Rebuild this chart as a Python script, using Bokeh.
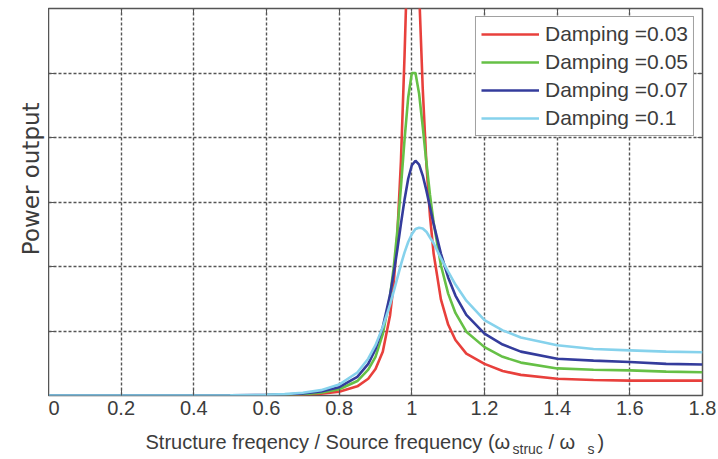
from math import pi
from bokeh.plotting import figure
from bokeh.layouts import row, column
from bokeh.models import (FixedTicker, NumeralTickFormatter, LinearAxis, Label, Legend)
from bokeh.embed import file_html
from bokeh.resources import INLINE

# ---- data ----
freq_ratio = [0, 0.1, 0.2, 0.3, 0.4, 0.5, 0.6, 0.65, 0.7, 0.75, 0.8, 0.85, 0.88, 0.9,
              0.92, 0.94, 0.95, 0.96, 0.97, 0.98, 0.99, 1.0, 1.01, 1.02, 1.03, 1.04,
              1.05, 1.06, 1.08, 1.1, 1.12, 1.15, 1.2, 1.25, 1.3, 1.4, 1.5, 1.6, 1.7, 1.8]

power_d003 = [0, 0, 0, 0, 0, 0.001, 0.003, 0.007, 0.013, 0.028, 0.06, 0.142, 0.26, 0.41,
              0.68, 1.24, 1.73, 2.48, 3.63, 5.28, 7.19, 8.33, 7.81, 6.28, 4.76, 3.60,
              2.78, 2.20, 1.49, 1.10, 0.86, 0.65, 0.49, 0.38, 0.32, 0.26, 0.24, 0.23, 0.23, 0.23]

power_d005 = [0, 0, 0, 0, 0, 0.001, 0.006, 0.011, 0.022, 0.045, 0.096, 0.224, 0.40, 0.60,
              0.95, 1.54, 1.98, 2.55, 3.23, 3.97, 4.62, 5.0, 5.0, 4.68, 4.17, 3.62,
              3.11, 2.68, 2.02, 1.58, 1.28, 0.99, 0.75, 0.60, 0.51, 0.42, 0.40, 0.39, 0.37, 0.36]

power_d007 = [0, 0, 0, 0, 0.001, 0.002, 0.008, 0.016, 0.031, 0.062, 0.129, 0.289, 0.49, 0.72,
              1.06, 1.56, 1.89, 2.26, 2.66, 3.04, 3.36, 3.57, 3.64, 3.58, 3.41, 3.18,
              2.92, 2.66, 2.20, 1.83, 1.55, 1.25, 0.96, 0.79, 0.68, 0.57, 0.54, 0.52, 0.49, 0.48]

power_d010 = [0, 0, 0, 0, 0.001, 0.003, 0.011, 0.022, 0.042, 0.083, 0.169, 0.356, 0.57, 0.78,
              1.06, 1.41, 1.61, 1.82, 2.03, 2.22, 2.38, 2.50, 2.58, 2.60, 2.59, 2.54,
              2.45, 2.36, 2.13, 1.92, 1.72, 1.47, 1.17, 1.01, 0.90, 0.78, 0.72, 0.70, 0.68, 0.67]

series_labels = ["Damping =0.03", "Damping =0.05", "Damping =0.07", "Damping =0.1"]
series_colors = ["#e8403c", "#66c046", "#343c9c", "#86d2ec"]

x_ticks = [0, 0.2, 0.4, 0.6, 0.8, 1.0, 1.2, 1.4, 1.6, 1.8]
y_ticks = [1, 2, 3, 4, 5]

x_title = "Structure freqency / Source frequency (\u03c9"
x_title_sub1 = "struc"
x_title_mid = "/ \u03c9"
x_title_sub2 = "s"
x_title_end = ")"
y_title = "Power output"

FONT = "Liberation Sans"
TXT = "#3c3c3c"
FRAME = "#555555"

# ---------------- main plot ----------------
p = figure(width=668, height=425, x_range=(0, 1.8), y_range=(0, 6),
           output_backend="svg", toolbar_location=None,
           min_border_left=0, min_border_right=14, min_border_top=8,
           min_border_bottom=30, background_fill_color="white",
           border_fill_color="white")

p.outline_line_color = FRAME
p.outline_line_width = 1.5

p.xaxis.ticker = FixedTicker(ticks=x_ticks)
p.xaxis.formatter = NumeralTickFormatter(format="0.[0]")
p.xaxis.major_label_text_font = FONT
p.xaxis.major_label_text_font_size = "20px"
p.xaxis.major_label_text_color = TXT
p.xaxis.major_label_standoff = 5
p.xaxis.major_tick_in = 6
p.xaxis.major_tick_out = 0
p.xaxis.minor_tick_line_color = None
p.xaxis.axis_line_color = None
p.xaxis.major_tick_line_color = FRAME

p.yaxis.ticker = FixedTicker(ticks=y_ticks)
p.yaxis.major_label_text_font_size = "0px"
p.yaxis.major_label_text_color = None
p.yaxis.major_label_standoff = 0
p.yaxis.major_tick_in = 6
p.yaxis.major_tick_out = 0
p.yaxis.minor_tick_line_color = None
p.yaxis.axis_line_color = None
p.yaxis.major_tick_line_color = FRAME

def tick_only_axis(ticks):
    return LinearAxis(ticker=FixedTicker(ticks=ticks), major_label_text_font_size="0px",
                      major_label_text_color=None, major_label_standoff=0,
                      major_tick_in=5, major_tick_out=0, minor_tick_line_color=None,
                      axis_line_color=None, major_tick_line_color=FRAME)

p.add_layout(tick_only_axis(x_ticks), "above")
p.add_layout(tick_only_axis(y_ticks), "right")

for g in (p.xgrid, p.ygrid):
    g.grid_line_color = "#555555"
    g.grid_line_dash = "3 2"
    g.grid_line_width = 1.4
p.xgrid.ticker = FixedTicker(ticks=x_ticks)
p.ygrid.ticker = FixedTicker(ticks=y_ticks)

all_series = [power_d003, power_d005, power_d007, power_d010]
items = []
for ys, col, lab in zip(all_series, series_colors, series_labels):
    r = p.line(freq_ratio, ys, line_color=col, line_width=2.6)
    items.append((lab, [r]))

legend = Legend(items=items, location="top_right")
legend.margin = 8
legend.padding = 5
legend.spacing = 4
legend.glyph_width = 58
legend.glyph_height = 24
legend.label_height = 24
legend.label_standoff = 6
legend.label_text_font = FONT
legend.label_text_font_size = "21px"
legend.label_text_color = TXT
legend.border_line_color = "#444444"
legend.border_line_width = 1.5
legend.background_fill_alpha = 1.0
p.add_layout(legend, "center")

# ---------------- y title strip (left) ----------------
yfig = figure(width=48, height=425, x_range=(0, 48), y_range=(0, 425),
              x_axis_type=None, y_axis_type=None, min_border=0,
              output_backend="svg", toolbar_location=None)
yfig.outline_line_color = None
yfig.grid.visible = False
yfig.add_layout(Label(x=30, y=238, text=y_title, angle=pi / 2, text_font="DejaVu Sans",
                      text_font_size="23px", text_color=TXT, text_baseline="alphabetic",
                      text_align="center"))

# ---------------- x title strip (bottom) ----------------
xfig = figure(width=716, height=33, x_range=(0, 716), y_range=(0, 33),
              x_axis_type=None, y_axis_type=None, min_border=0,
              output_backend="svg", toolbar_location=None)
xfig.outline_line_color = None
xfig.grid.visible = False

def lab(x, y, text, size):
    xfig.add_layout(Label(x=x, y=y, text=text, text_font=FONT, text_font_size=size,
                          text_color=TXT, text_baseline="alphabetic", text_align="left"))

lab(145, 17, x_title, "20px")
lab(512, 10, x_title_sub1, "14px")
lab(548, 17, x_title_mid, "20px")
lab(587, 10, x_title_sub2, "14px")
lab(597, 17, x_title_end, "20px")

layout = column(row(yfig, p, spacing=0), xfig, spacing=0)

open("out.html", "w").write(file_html(layout, INLINE))
